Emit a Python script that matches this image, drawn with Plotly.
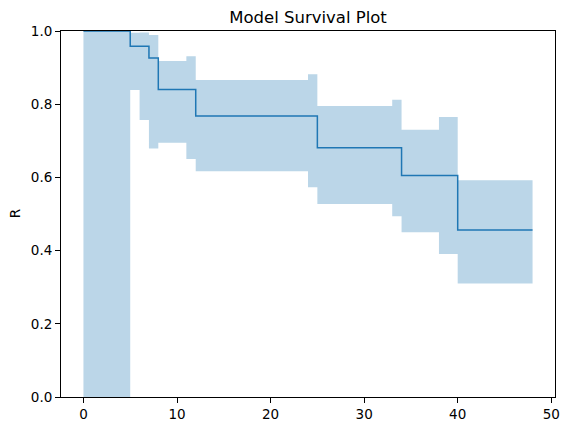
import plotly.graph_objects as go

# Survival estimate (step function, post)
surv_t = [0, 5, 7, 8, 12, 25, 34, 40, 48]
surv_r = [1.0, 0.958, 0.926, 0.840, 0.768, 0.681, 0.605, 0.456, 0.456]

# Confidence band (step function, post)
ci_t = [0, 5, 6, 7, 8, 11, 12, 24, 25, 33, 34, 38, 40, 48]
ci_upper = [1.0, 0.995, 0.996, 0.989, 0.918, 0.931, 0.866, 0.882, 0.795, 0.812, 0.730, 0.765, 0.592, 0.592]
ci_lower = [0.0, 0.839, 0.757, 0.679, 0.695, 0.650, 0.617, 0.573, 0.527, 0.494, 0.450, 0.391, 0.310, 0.310]

x_ticks = [0, 10, 20, 30, 40, 50]
y_ticks = [0.0, 0.2, 0.4, 0.6, 0.8, 1.0]

C0 = "#1f77b4"
FONT = "DejaVu Sans"

fig = go.Figure()
fig.add_trace(go.Scatter(x=ci_t, y=ci_lower, mode="lines", line=dict(width=0, shape="hv"),
                         showlegend=False, hoverinfo="skip"))
fig.add_trace(go.Scatter(x=ci_t, y=ci_upper, mode="lines", line=dict(width=0, shape="hv"),
                         fill="tonexty", fillcolor="rgba(31,119,180,0.3)",
                         showlegend=False, hoverinfo="skip"))
fig.add_trace(go.Scatter(x=surv_t, y=surv_r, mode="lines", line=dict(color=C0, width=1.5, shape="hv"),
                         showlegend=False))

W, H = 572, 434
ml, mr, mt, mb = 61, 15, 31, 32
axis_common = dict(showgrid=False, zeroline=False, showline=True, linecolor="black", linewidth=1,
                   mirror=True, ticks="outside", ticklen=5, tickwidth=1, tickcolor="black",
                   tickfont=dict(family=FONT, size=13.5, color="black"))

fig.update_layout(
    width=W, height=H,
    margin=dict(l=ml, r=mr, t=mt, b=mb),
    plot_bgcolor="white", paper_bgcolor="white",
    title=dict(text="Model Survival Plot", x=0.5, xref="paper", xanchor="center",
               y=1 - 17 / H, yref="container", yanchor="middle",
               font=dict(family=FONT, size=16.5, color="black")),
    xaxis=dict(range=[-2.4, 50.4], tickvals=x_ticks, ticktext=[str(v) for v in x_ticks], **axis_common),
    yaxis=dict(range=[0, 1], tickvals=y_ticks, ticktext=[f"{v:.1f}" for v in y_ticks], **axis_common),
    annotations=[dict(text="R", xref="paper", yref="paper", x=(15 - ml) / (W - ml - mr), y=0.5,
                      xanchor="center", yanchor="middle", textangle=-90, showarrow=False,
                      font=dict(family=FONT, size=13.5, color="black"))],
)

fig.write_html("out.html")
